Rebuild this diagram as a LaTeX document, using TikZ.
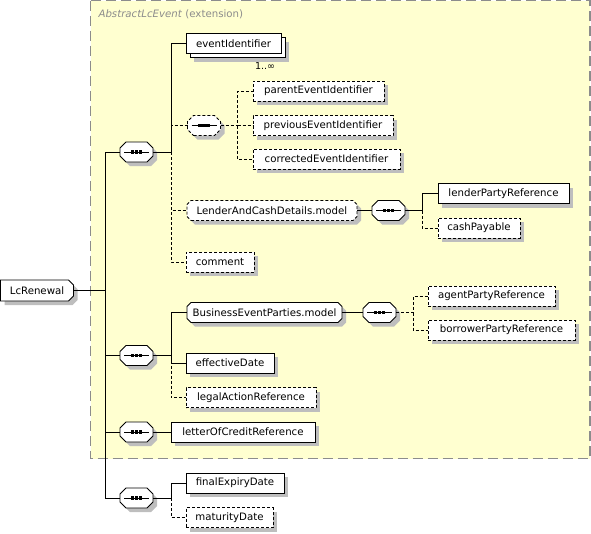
\documentclass[tikz,border=0pt]{standalone}
\usepackage{fontspec}
\setmainfont{DejaVu Sans}
\usetikzlibrary{positioning,shadows}
\definecolor{extfill}{RGB}{255,255,208}
\definecolor{extframe}{RGB}{140,140,140}
\definecolor{shadowgray}{RGB}{190,190,190}

% box with cut corners (west and east cut can differ)
\makeatletter
\newdimen\cbL \newdimen\cbR \newdimen\cbT \newdimen\cbB \newdimen\cbW \newdimen\cbE
\pgfkeys{/pgf/cut west/.initial=0pt,/pgf/cut east/.initial=0pt}
\pgfdeclareshape{cutbox}{%
  \inheritsavedanchors[from=rectangle]%
  \inheritanchorborder[from=rectangle]%
  \inheritanchor[from=rectangle]{center}%
  \inheritanchor[from=rectangle]{north}%
  \inheritanchor[from=rectangle]{south}%
  \inheritanchor[from=rectangle]{east}%
  \inheritanchor[from=rectangle]{west}%
  \inheritanchor[from=rectangle]{north east}%
  \inheritanchor[from=rectangle]{north west}%
  \inheritanchor[from=rectangle]{south east}%
  \inheritanchor[from=rectangle]{south west}%
  \inheritanchor[from=rectangle]{base}%
  \inheritanchor[from=rectangle]{mid}%
  \inheritanchor[from=rectangle]{text}%
  \backgroundpath{%
    \southwest \global\cbL=\pgf@x \global\cbB=\pgf@y
    \northeast \global\cbR=\pgf@x \global\cbT=\pgf@y
    \pgfmathsetlength\cbW{\pgfkeysvalueof{/pgf/cut west}}%
    \pgfmathsetlength\cbE{\pgfkeysvalueof{/pgf/cut east}}%
    \pgfpathmoveto{\pgfqpoint{\dimexpr\cbL+\cbW\relax}{\cbB}}%
    \pgfpathlineto{\pgfqpoint{\dimexpr\cbR-\cbE\relax}{\cbB}}%
    \pgfpathlineto{\pgfqpoint{\cbR}{\dimexpr\cbB+\cbE\relax}}%
    \pgfpathlineto{\pgfqpoint{\cbR}{\dimexpr\cbT-\cbE\relax}}%
    \pgfpathlineto{\pgfqpoint{\dimexpr\cbR-\cbE\relax}{\cbT}}%
    \pgfpathlineto{\pgfqpoint{\dimexpr\cbL+\cbW\relax}{\cbT}}%
    \pgfpathlineto{\pgfqpoint{\cbL}{\dimexpr\cbT-\cbW\relax}}%
    \pgfpathlineto{\pgfqpoint{\cbL}{\dimexpr\cbB+\cbW\relax}}%
    \pgfpathclose
  }%
}
\makeatother

\begin{document}
\begin{tikzpicture}[
  x=1pt, y=-1pt,
  font=\fontsize{10.2}{12}\selectfont,
  shadowed/.style={drop shadow={shadow xshift=4pt,shadow yshift=-4pt,fill=shadowgray,opacity=1}},
  elem/.style={draw,fill=white,line width=.8pt,shadowed,minimum height=20pt,inner sep=2pt,outer sep=0pt,anchor=west},
  optelem/.style={elem,dash pattern=on 3pt off 2pt},
  multelem/.style={draw,fill=white,line width=.8pt,minimum height=20pt,inner sep=2pt,outer sep=0pt,anchor=west,
    drop shadow={shadow xshift=8pt,shadow yshift=-8pt,fill=shadowgray,opacity=1},
    copy shadow={shadow xshift=4pt,shadow yshift=-4pt}},
  root/.style={cutbox,cut east=5pt,draw,fill=white,line width=.8pt,shadowed,
    minimum width=73pt,minimum height=21pt,inner sep=2pt,outer sep=0pt,anchor=west},
  group/.style={cutbox,cut west=4pt,cut east=4pt,draw,fill=white,line width=.8pt,
    shadowed,minimum height=20pt,inner sep=2pt,outer sep=0pt,anchor=west},
  optgroup/.style={group,dash pattern=on 3pt off 2pt},
  seqbox/.style={cutbox,cut west=6pt,cut east=6pt,draw,fill=white,line width=.8pt,
    shadowed,minimum width=33pt,minimum height=20pt,inner sep=0pt,outer sep=0pt,
    path picture={
      \draw[black,solid,line width=1pt] ([xshift=4pt]path picture bounding box.west)
        -- ([xshift=-4pt]path picture bounding box.east);
      \foreach \d in {-4,0,4}
        \fill[black] ([xshift=\d pt]path picture bounding box.center) +(-1.6,-1.6) rectangle +(1.6,1.6);
    }},
  optseq/.style={seqbox,dash pattern=on 3pt off 2pt},
  link/.style={line width=.8pt},
  optlink/.style={link,dash pattern=on 3pt off 2pt}
]
  \useasboundingbox (0,0) rectangle (591,533);

  % extension frame
  \fill[extfill] (90.5,0.5) rectangle (590,458.5);
  \draw[extframe,line width=1.5pt,dash pattern=on 10pt off 5pt] (90.5,0.5) rectangle (590,458.5);
  \node[anchor=west,text=extframe] (title) at (95,14) {\textit{AbstractLcEvent} (extension)};

  \node[root] (lcr) at (0.5,290.5) {LcRenewal};

  \node[seqbox] (seqA) at (136.5,152) {};
  \node[seqbox] (seqB) at (136.5,355.5) {};
  \node[seqbox] (seqC) at (136.5,432) {};
  \node[seqbox] (seqD) at (136.5,498) {};

  % first sequence
  \node[multelem,minimum width=95pt] (evid) at (186,43.5) {eventIdentifier};
  \node[font=\fontsize{9.5}{10}\selectfont] (evidmult) at ([xshift=-16pt,yshift=-13pt]evid.south east) {1..∞};
  \node[optseq] (seqE) at (204,125.5) {};
  \node[optelem,minimum width=131pt] (parent) at (253,91) {parentEventIdentifier};
  \node[optelem,minimum width=140pt] (previous) at (253,125.5) {previousEventIdentifier};
  \node[optelem,minimum width=147pt] (corrected) at (253,159) {correctedEventIdentifier};
  \node[optgroup,minimum width=170pt] (lcmodel) at (187,210.5) {LenderAndCashDetails.model};
  \node[seqbox,right=15pt of lcmodel] (seqF) {};
  \node[elem,minimum width=131pt] (lender) at (438,193.5) {lenderPartyReference};
  \node[optelem,minimum width=82pt] (cash) at (438,228) {cashPayable};
  \node[optelem,minimum width=68pt] (comment) at (186,262) {comment};

  % second sequence
  \node[group,minimum width=155pt] (bepmodel) at (187,312.5) {BusinessEventParties.model};
  \node[seqbox,right=21pt of bepmodel] (seqG) {};
  \node[optelem,minimum width=127pt] (agent) at (428,296) {agentPartyReference};
  \node[optelem,minimum width=147pt] (borrower) at (428,330) {borrowerPartyReference};
  \node[elem,minimum width=88pt] (effdate) at (186,363) {effectiveDate};
  \node[optelem,minimum width=130pt] (legal) at (186,397.5) {legalActionReference};

  % third and fourth sequence
  \node[elem,minimum width=144pt] (loc) at (171,432) {letterOfCreditReference};
  \node[elem,minimum width=98pt] (final) at (186,483) {finalExpiryDate};
  \node[optelem,minimum width=87pt] (maturity) at (186,517.5) {maturityDate};

  % connectors
  \coordinate (trunk) at (105,290.5);
  \draw[link] (lcr.east) -- (trunk);
  \foreach \s in {seqA,seqB,seqC,seqD}
    \draw[link] (trunk) |- (\s.west);

  \coordinate[right=18pt of seqA.east] (jA);
  \draw[link] (seqA.east) -- (jA) |- (evid.west);
  \draw[optlink] (jA) |- (seqE.west);
  \draw[optlink] (jA) |- (lcmodel.west);
  \draw[optlink] (jA) |- (comment.west);

  \coordinate[right=17pt of seqE.east] (jE);
  \draw[optlink] (seqE.east) -- (jE) |- (parent.west);
  \draw[optlink] (jE) |- (previous.west);
  \draw[optlink] (jE) |- (corrected.west);

  \draw[link] (lcmodel) -- (seqF);
  \coordinate[right=17pt of seqF.east] (jF);
  \draw[link] (seqF.east) -- (jF) |- (lender.west);
  \draw[optlink] (jF) |- (cash.west);

  \coordinate[right=18pt of seqB.east] (jB);
  \draw[link] (seqB.east) -- (jB) |- (bepmodel.west);
  \draw[link] (jB) |- (effdate.west);
  \draw[optlink] (jB) |- (legal.west);

  \draw[link] (bepmodel) -- (seqG);
  \coordinate[right=17pt of seqG.east] (jG);
  \draw[optlink] (seqG.east) -- (jG) |- (agent.west);
  \draw[optlink] (jG) |- (borrower.west);

  \draw[link] (seqC) -- (loc);

  \coordinate[right=18pt of seqD.east] (jD);
  \draw[link] (seqD.east) -- (jD) |- (final.west);
  \draw[optlink] (jD) |- (maturity.west);
\end{tikzpicture}
\end{document}
